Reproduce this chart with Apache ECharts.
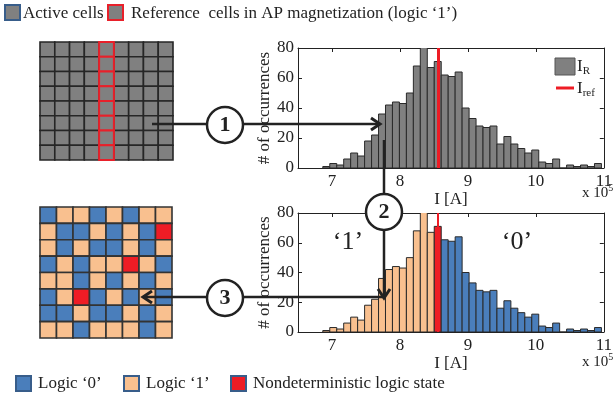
<!DOCTYPE html>
<html><head><meta charset="utf-8">
<script src="https://cdn.jsdelivr.net/npm/echarts@6/dist/echarts.min.js"></script>
<style>html,body{margin:0;padding:0;background:#fff}#c{width:615px;height:400px}</style>
</head><body><div id="c"></div>
<script>
// Histogram of read currents I_R (units: 1e5 A), 40 bins
const binStart = 6.865;
const binWidth = 0.1025;
const counts = [1,3,2,6,10,8,18,22,36,42,44,43,50,68,82,67,71,62,61,64,40,33,28,27,28,16,21,16,13,10,12,4,3,6,0,2,1,2,1,3];
const iRef = 8.56;
const xTickValues = [7, 8, 9, 10, 11];
const xMin = 6.5, xMax = 11;
const yMax = 80, yStep = 20;

// Memory array: active cells (9 x 8) with a reference column
const arrayCols = 9, arrayRows = 8;
const refColumn = 4;

// Read-out logic map: 0 = logic '0', 1 = logic '1', 2 = nondeterministic
const logicGrid = [
  [0,1,1,0,1,0,1,1],
  [1,0,0,1,0,1,0,2],
  [1,0,1,0,0,1,0,1],
  [0,1,0,1,1,2,1,0],
  [1,1,0,1,0,1,0,1],
  [0,1,2,0,1,0,1,0],
  [0,0,1,0,0,1,0,1],
  [1,1,0,1,1,1,0,1]
];

const SERIF = '"Liberation Serif","DejaVu Serif",serif';
const INK = '#222';
const C_GRAY = '#808080', C_BLUE = '#4a7ebb', C_ORANGE = '#f9c08f', C_RED = '#ee1c25';
const logicColors = [C_BLUE, C_ORANGE, C_RED];

const histData = counts.map((c, i) => [binStart + i * binWidth, binStart + (i + 1) * binWidth, c]);

function histRender(colorFn) {
  return function (params, api) {
    const x0 = api.value(0), x1 = api.value(1), c = api.value(2);
    const p0 = api.coord([x0, c]);
    const p1 = api.coord([x1, 0]);
    return {
      type: 'rect',
      shape: { x: p0[0], y: p0[1], width: p1[0] - p0[0], height: p1[1] - p0[1] },
      style: { fill: colorFn(x0, x1), stroke: '#2a2a2a', lineWidth: 1 }
    };
  };
}

function cellRender(params, api) {
  const col = api.value(0), row = api.value(1);
  const c = api.coord([col, row]);
  const s = api.size([1, 1]);
  return {
    type: 'rect',
    shape: { x: c[0] - s[0] / 2, y: c[1] - s[1] / 2, width: s[0], height: s[1] },
    style: { fill: api.value(2), stroke: api.value(3), lineWidth: api.value(4) }
  };
}

// top array cells: gray, reference column drawn last with red border
const arrayData = [];
for (let r = 0; r < arrayRows; r++) for (let c = 0; c < arrayCols; c++)
  if (c !== refColumn) arrayData.push([c, r, C_GRAY, '#262626', 1.6]);
for (let r = 0; r < arrayRows; r++) arrayData.push([refColumn, r, C_GRAY, '#e8202a', 2]);

const logicData = [];
logicGrid.forEach((row, r) => row.forEach((v, c) => logicData.push([c, r, logicColors[v], '#333', 1.6])));

function histXAxis(gi) {
  return [{
    type: 'value', gridIndex: gi, min: xMin, max: xMax, interval: 0.5,
    axisLine: { show: true, onZero: false, lineStyle: { color: INK, width: 1 } },
    axisTick: { show: true, inside: true, length: 4, customValues: xTickValues, lineStyle: { color: INK } },
    axisLabel: { customValues: xTickValues, fontFamily: SERIF, fontSize: 17, color: INK, margin: 5 },
    splitLine: { show: false },
    name: 'I [A]', nameLocation: 'middle', nameGap: 16,
    nameTextStyle: { fontFamily: SERIF, fontSize: 17, color: INK }
  }, {
    type: 'value', gridIndex: gi, min: xMin, max: xMax, interval: 0.5, position: 'top',
    axisLine: { show: true, onZero: false, lineStyle: { color: INK, width: 1 } },
    axisTick: { show: true, inside: true, length: 4, customValues: xTickValues, lineStyle: { color: INK } },
    axisLabel: { show: false }, splitLine: { show: false }
  }];
}
function histYAxis(gi) {
  return [{
    type: 'value', gridIndex: gi, min: 0, max: yMax, interval: yStep,
    axisLine: { show: true, lineStyle: { color: INK, width: 1 } },
    axisTick: { show: true, inside: true, length: 4, lineStyle: { color: INK } },
    axisLabel: { fontFamily: SERIF, fontSize: 17, color: INK, margin: 4 },
    splitLine: { show: false },
    name: '# of occurrences', nameLocation: 'middle', nameGap: 24, nameRotate: 90,
    nameTextStyle: { fontFamily: SERIF, fontSize: 17, color: INK }
  }, {
    type: 'value', gridIndex: gi, min: 0, max: yMax, interval: yStep, position: 'right',
    axisLine: { show: true, lineStyle: { color: INK, width: 1 } },
    axisTick: { show: true, inside: true, length: 4, lineStyle: { color: INK } },
    axisLabel: { show: false }, splitLine: { show: false }
  }];
}

const refMarkLine = (w) => ({
  symbol: 'none', silent: true, label: { show: false },
  lineStyle: { color: C_RED, width: w, type: 'solid', opacity: 1 },
  emphasis: { disabled: true },
  data: [{ xAxis: iRef }]
});

const catAxisX = (gi, n) => ({ type: 'category', gridIndex: gi, data: Array.from({ length: n }, (_, i) => String(i)), show: false, boundaryGap: true });
const catAxisY = (gi, n) => ({ type: 'category', gridIndex: gi, data: Array.from({ length: n }, (_, i) => String(i)), show: false, inverse: true, boundaryGap: true });

const lw = 2.5;
function arrowHead(x, y, dir) {
  const a = 9, b = 6;
  let pts;
  if (dir === 'right') pts = [[x - a, y - b], [x, y], [x - a, y + b]];
  if (dir === 'left') pts = [[x + a, y - b], [x, y], [x + a, y + b]];
  if (dir === 'down') pts = [[x - b, y - a], [x, y], [x + b, y - a]];
  return { type: 'polyline', shape: { points: pts }, style: { stroke: INK, lineWidth: 3, fill: null }, z: 20 };
}
function circ(x, y, label) {
  return [
    { type: 'circle', shape: { cx: x, cy: y, r: 18 }, style: { fill: '#fff', stroke: INK, lineWidth: 2.5 }, z: 30 },
    { type: 'text', x: x, y: y, style: { text: label, font: 'bold 22px ' + SERIF, fill: INK, align: 'center', verticalAlign: 'middle' }, z: 31 }
  ];
}
function legendBox(x, y, fill, stroke) {
  return { type: 'rect', shape: { x: x, y: y, width: 15, height: 15 }, style: { fill: fill, stroke: stroke, lineWidth: 2 }, z: 10 };
}
function txt(x, y, s, size, extra) {
  return Object.assign({ type: 'text', x: x, y: y, style: Object.assign({ text: s, font: size + 'px ' + SERIF, fill: INK, verticalAlign: 'middle' }, extra || {}), z: 10 });
}

const option = {
  animation: false,
  backgroundColor: '#fff',
  grid: [
    { left: 298, top: 48, width: 310, height: 120 },
    { left: 298, top: 213, width: 310, height: 119 },
    { left: 40, top: 42, width: 133, height: 118 },
    { left: 40, top: 207, width: 132, height: 131 }
  ],
  xAxis: [...histXAxis(0), ...histXAxis(1), catAxisX(2, arrayCols), catAxisX(3, 8)],
  yAxis: [...histYAxis(0), ...histYAxis(1), catAxisY(2, arrayRows), catAxisY(3, 8)],
  series: [
    {
      type: 'custom', xAxisIndex: 0, yAxisIndex: 0, clip: true,
      renderItem: histRender(() => C_GRAY),
      encode: { x: [0, 1], y: 2 }, data: histData,
      markLine: refMarkLine(3), z: 2
    },
    {
      type: 'custom', xAxisIndex: 2, yAxisIndex: 2, clip: true,
      renderItem: histRender((x0, x1) => (x0 <= iRef && x1 > iRef) ? C_RED : (x1 <= iRef ? C_ORANGE : C_BLUE)),
      encode: { x: [0, 1], y: 2 }, data: histData,
      markLine: refMarkLine(2), z: 2
    },
    {
      type: 'custom', xAxisIndex: 4, yAxisIndex: 4,
      renderItem: cellRender, encode: { x: 0, y: 1 }, data: arrayData
    },
    {
      type: 'custom', xAxisIndex: 5, yAxisIndex: 5,
      renderItem: cellRender, encode: { x: 0, y: 1 }, data: logicData
    }
  ],
  graphic: [
    // top legend
    legendBox(5, 5, C_GRAY, '#385d8a'),
    txt(23, 14, 'Active cells', 17),
    legendBox(108, 5, C_GRAY, '#e8202a'),
    txt(131, 14, 'Reference  cells in AP magnetization (logic \u20181\u2019)', 17),
    // bottom legend
    legendBox(16, 376, C_BLUE, '#385d8a'),
    txt(38, 384, 'Logic \u20180\u2019', 17),
    legendBox(124, 376, C_ORANGE, '#385d8a'),
    txt(146, 384, 'Logic \u20181\u2019', 17),
    legendBox(231, 376, C_RED, '#385d8a'),
    txt(253, 384, 'Nondeterministic logic state', 17),
    // histogram legend
    { type: 'rect', shape: { x: 555, y: 58, width: 20, height: 17 }, style: { fill: C_GRAY, stroke: '#555', lineWidth: 1 }, z: 10 },
    { type: 'text', x: 577, y: 67, style: { text: '{m|I}{s|R}', verticalAlign: 'middle', rich: { m: { font: '17px ' + SERIF, fill: INK }, s: { font: '11px ' + SERIF, fill: INK, padding: [8, 0, 0, 0] } } }, z: 10 },
    { type: 'line', shape: { x1: 556, y1: 88, x2: 574, y2: 88 }, style: { stroke: C_RED, lineWidth: 3 }, z: 10 },
    { type: 'text', x: 577, y: 89, style: { text: '{m|I}{s|ref}', verticalAlign: 'middle', rich: { m: { font: '17px ' + SERIF, fill: INK }, s: { font: '11px ' + SERIF, fill: INK, padding: [8, 0, 0, 0] } } }, z: 10 },
    // exponent labels
    { type: 'text', x: 582, y: 193, style: { text: '{m|x 10}{s|5}', verticalAlign: 'middle', rich: { m: { font: '15px ' + SERIF, fill: INK }, s: { font: '10px ' + SERIF, fill: INK, padding: [0, 0, 9, 0] } } }, z: 10 },
    { type: 'text', x: 582, y: 362, style: { text: '{m|x 10}{s|5}', verticalAlign: 'middle', rich: { m: { font: '15px ' + SERIF, fill: INK }, s: { font: '10px ' + SERIF, fill: INK, padding: [0, 0, 9, 0] } } }, z: 10 },
    // region labels
    txt(348, 242, '\u20181\u2019', 26, { align: 'center' }),
    txt(517, 242, '\u20180\u2019', 26, { align: 'center' }),
    // arrows
    { type: 'line', shape: { x1: 152, y1: 124, x2: 379, y2: 124 }, style: { stroke: INK, lineWidth: lw }, z: 20 },
    arrowHead(380, 124, 'right'),
    { type: 'line', shape: { x1: 384, y1: 140, x2: 384, y2: 297 }, style: { stroke: INK, lineWidth: lw }, z: 20 },
    arrowHead(384, 298, 'down'),
    { type: 'line', shape: { x1: 384, y1: 297, x2: 144, y2: 297 }, style: { stroke: INK, lineWidth: lw }, z: 20 },
    arrowHead(143, 297, 'left'),
    ...circ(225, 125, '1'),
    ...circ(384, 212, '2'),
    ...circ(225, 298, '3')
  ]
};

const chart = echarts.init(document.getElementById('c'), null, { renderer: 'canvas' });
chart.setOption(option);
</script>
</body></html>
